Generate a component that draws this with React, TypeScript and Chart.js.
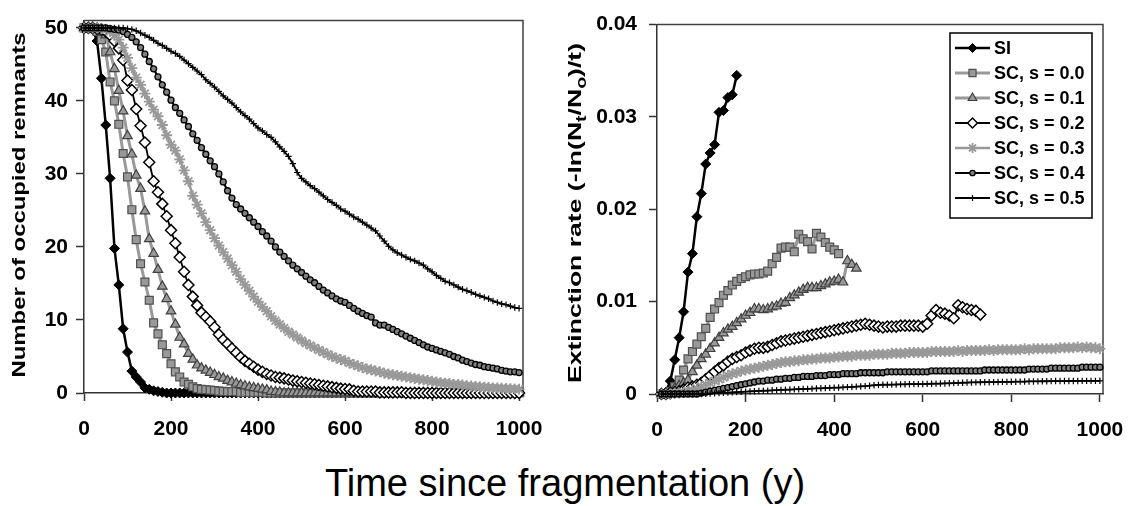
import React, { useEffect, useRef } from "react";
import { Chart, registerables } from "chart.js";
import { drawPoint } from "chart.js/helpers";

Chart.register(...registerables);

const FONT = '"Liberation Sans", Arial, Helvetica, sans-serif';

// ---------------- data ----------------
// time since fragmentation (years), shared by every series
const YEARS = [
  0, 10, 20, 30, 40, 50, 60, 70, 80, 90,
  100, 110, 120, 130, 140, 150, 160, 170, 180, 190,
  200, 210, 220, 230, 240, 250, 260, 270, 280, 290,
  300, 310, 320, 330, 340, 350, 360, 370, 380, 390,
  400, 410, 420, 430, 440, 450, 460, 470, 480, 490,
  500, 510, 520, 530, 540, 550, 560, 570, 580, 590,
  600, 610, 620, 630, 640, 650, 660, 670, 680, 690,
  700, 710, 720, 730, 740, 750, 760, 770, 780, 790,
  800, 810, 820, 830, 840, 850, 860, 870, 880, 890,
  900, 910, 920, 930, 940, 950, 960, 970, 980, 990,
  1000,
];

const SERIES_LABELS = ["SI", "SC, s = 0.0", "SC, s = 0.1", "SC, s = 0.2", "SC, s = 0.3", "SC, s = 0.4", "SC, s = 0.5"];

const X_TICKS = [0, 200, 400, 600, 800, 1000];
const LEFT_Y_TICKS = [0, 10, 20, 30, 40, 50];
const RIGHT_Y_TICKS = [0, 0.01, 0.02, 0.03, 0.04];

// Left panel: number of occupied remnants (one value per YEARS entry)
const OCC_SI = [
  50, 50, 49.8, 48.2, 43.1, 36.7, 29.4, 19.8, 14.8, 8.8,
  5.6, 3.0, 2.2, 1.5, 0.7, 0.5, 0.3, 0.2, 0.1, 0,
  0, 0, 0, 0, 0, 0, 0, 0, 0, 0,
  0, 0, 0, 0, 0, 0, 0, 0, 0, 0,
  0, 0, 0, 0, 0, 0, 0, 0, 0, 0,
  0, 0, 0, 0, 0, 0, 0, 0, 0, 0,
  0, 0, 0, 0, 0, 0, 0, 0, 0, 0,
  0, 0, 0, 0, 0, 0, 0, 0, 0, 0,
  0, 0, 0, 0, 0, 0, 0, 0, 0, 0,
  0, 0, 0, 0, 0, 0, 0, 0, 0, 0,
  0,
];
const OCC_S00 = [
  50, 50, 49.9, 49.5, 48.4, 46.7, 42.6, 40.0, 36.8, 32.8,
  29.6, 25.1, 21.0, 17.7, 15.2, 12.7, 9.6, 8.1, 6.6, 5.4,
  4.0, 2.9, 2.2, 1.5, 1.2, 0.85, 0.6, 0.5, 0.45, 0.4,
  0.35, 0.25, 0.22, 0.2, 0.2, 0.18, 0.1, 0.1, 0.1, 0.1,
  0.1, 0.1, 0, 0, 0, 0, 0, 0, 0, 0,
  0, 0, 0, 0, 0, 0, 0, 0, 0, 0,
  0, 0, 0, 0, 0, 0, 0, 0, 0, 0,
  0, 0, 0, 0, 0, 0, 0, 0, 0, 0,
  0, 0, 0, 0, 0, 0, 0, 0, 0, 0,
  0, 0, 0, 0, 0, 0, 0, 0, 0, 0,
  0,
];
const OCC_S01 = [
  50, 50, 50, 49.8, 49.5, 49.0, 46.7, 44.4, 41.4, 38.6,
  35.2, 32.7, 29.8, 28.0, 24.9, 21.1, 19.1, 16.9, 14.6, 12.9,
  11.2, 9.4, 7.6, 6.7, 5.4, 4.6, 3.8, 3.4, 3.1, 2.8,
  2.5, 2.2, 2.0, 1.7, 1.5, 1.3, 1.1, 0.95, 0.8, 0.7,
  0.6, 0.5, 0.4, 0.2, 0.15, 0.1, 0, 0, 0, 0,
  0, 0, 0, 0, 0, 0, 0, 0, 0, 0,
  0, 0, 0, 0, 0, 0, 0, 0, 0, 0,
  0, 0, 0, 0, 0, 0, 0, 0, 0, 0,
  0, 0, 0, 0, 0, 0, 0, 0, 0, 0,
  0, 0, 0, 0, 0, 0, 0, 0, 0, 0,
  0,
];
const OCC_S02 = [
  50, 50, 50, 49.9, 49.8, 49.5, 49.0, 48.2, 47.2, 45.6,
  42.8, 41.5, 38.9, 36.6, 34.3, 31.6, 29.0, 27.5, 25.9, 24.2,
  22.3, 20.5, 18.6, 16.6, 14.8, 13.2, 12.0, 11.0, 10.4, 9.8,
  9.0, 8.0, 7.3, 6.7, 6.1, 5.5, 4.9, 4.4, 4.0, 3.6,
  3.2, 2.9, 2.6, 2.4, 2.2, 2.1, 2.0, 1.85, 1.7, 1.6,
  1.5, 1.4, 1.3, 1.2, 1.1, 1.0, 0.9, 0.8, 0.7, 0.6,
  0.55, 0.5, 0.3, 0.2, 0.2, 0.2, 0.2, 0.2, 0.08, 0.08,
  0.08, 0.08, 0.08, 0.1, 0, 0, 0, 0, 0, 0,
  0, 0, 0, 0, 0, 0, 0, 0, 0, 0,
  0, 0, 0, 0, 0, 0, 0, 0, 0, 0,
  0,
];
const OCC_S03 = [
  50, 50, 50, 50, 49.9, 49.8, 49.5, 49.0, 48.4, 47.3,
  45.9, 44.5, 43.2, 42.2, 41.0, 39.9, 38.8, 37.9, 36.7, 35.3,
  34.0, 33.2, 32.0, 30.5, 29.0, 27.0, 25.8, 24.6, 23.4, 22.3,
  21.2, 20.2, 19.3, 18.4, 17.5, 16.6, 15.6, 14.8, 14.0, 13.2,
  12.5, 11.8, 11.2, 10.5, 9.9, 9.4, 8.9, 8.4, 8.0, 7.6,
  7.2, 6.8, 6.5, 6.2, 5.9, 5.6, 5.3, 5.0, 4.8, 4.6,
  4.4, 4.1, 3.9, 3.7, 3.5, 3.3, 3.2, 3.0, 2.9, 2.7,
  2.6, 2.5, 2.4, 2.3, 2.2, 2.1, 2.0, 1.9, 1.8, 1.7,
  1.6, 1.5, 1.4, 1.35, 1.3, 1.2, 1.15, 1.1, 1.0, 0.95,
  0.9, 0.85, 0.8, 0.75, 0.7, 0.68, 0.65, 0.6, 0.58, 0.55,
  0.5,
];
const OCC_S04 = [
  50, 50, 50, 50, 50, 50, 49.9, 49.8, 49.7, 49.5,
  49.1, 48.7, 48.1, 47.3, 46.4, 45.4, 44.4, 43.3, 42.2, 41.2,
  40.1, 39.1, 38.3, 37.4, 36.5, 35.5, 34.6, 33.6, 32.7, 31.8,
  31.0, 30.0, 28.9, 27.7, 26.7, 25.8, 25.2, 24.6, 24.0, 23.4,
  22.8, 22.1, 21.5, 20.8, 20.0, 19.3, 18.7, 18.1, 17.5, 17.0,
  16.5, 16.0, 15.5, 15.1, 14.6, 14.1, 13.7, 13.3, 12.9, 12.6,
  12.4, 12.0, 11.6, 11.2, 10.9, 10.6, 10.4, 9.6, 9.3, 9.3,
  9.0, 8.7, 8.4, 8.1, 7.8, 7.5, 7.2, 6.9, 6.6, 6.3,
  6.1, 5.9, 5.7, 5.5, 5.3, 5.0, 4.8, 4.5, 4.3, 4.1,
  3.9, 3.8, 3.6, 3.5, 3.4, 3.3, 3.1, 3.0, 2.9, 2.9,
  2.8,
];
const OCC_S05 = [
  50, 50, 50, 50, 50, 50, 50, 50, 50, 50,
  49.9, 49.8, 49.6, 49.3, 49.0, 48.7, 48.3, 47.9, 47.6, 47.2,
  46.8, 46.5, 46.1, 45.6, 45.1, 44.6, 44.1, 43.6, 42.9, 42.4,
  41.9, 41.3, 40.7, 40.2, 39.7, 39.1, 38.5, 38.0, 37.5, 36.9,
  36.3, 35.9, 35.4, 35.0, 34.4, 33.7, 33.1, 32.4, 31.4, 30.2,
  29.4, 28.9, 28.4, 28.0, 27.5, 27.0, 26.5, 26.1, 25.7, 25.2,
  24.9, 24.5, 24.1, 23.8, 23.4, 23.0, 22.6, 22.2, 21.5, 20.8,
  20.1, 19.6, 19.2, 18.9, 18.6, 18.3, 18.1, 17.8, 17.5, 17.0,
  16.6, 16.1, 15.7, 15.3, 15.1, 14.8, 14.5, 14.2, 14.0, 13.8,
  13.5, 13.3, 13.1, 12.9, 12.6, 12.4, 12.2, 12.1, 11.9, 11.7,
  11.6,
];

// Right panel: extinction rate, values start at YEARS[1] (t = 10)
const RATE_SI = [
  0, 0.0002, 0.0014, 0.0037, 0.0061, 0.0089, 0.0132, 0.0152, 0.0192, 0.0217,
  0.0249, 0.0261, 0.027, 0.0305, 0.0307, 0.0321, 0.0324, 0.0345,
];
const RATE_S00 = [
  0, 0, 0.0003, 0.0008, 0.0015, 0.0026, 0.0038, 0.0046, 0.0054, 0.0062,
  0.0071, 0.0083, 0.0092, 0.0099, 0.0107, 0.0112, 0.0118, 0.0122, 0.0125, 0.0127,
  0.0129, 0.013, 0.013, 0.0131, 0.0133, 0.0141, 0.0148, 0.0158, 0.0159, 0.0159,
  0.0154, 0.0173, 0.0168, 0.0165, 0.0157, 0.0174, 0.017, 0.0164, 0.0159, 0.0156,
  0.0152,
];
const RATE_S01 = [
  0, 0.0001, 0.0003, 0.0006, 0.0009, 0.0012, 0.0015, 0.0024, 0.0031, 0.0038,
  0.0043, 0.0049, 0.0055, 0.0061, 0.0066, 0.007, 0.0073, 0.0077, 0.0081, 0.0085,
  0.0088, 0.0092, 0.0092, 0.0091, 0.0092, 0.0094, 0.0095, 0.0098, 0.0099, 0.0104,
  0.0107, 0.011, 0.0113, 0.0115, 0.0115, 0.0115, 0.0117, 0.0119, 0.0121, 0.0122,
  0.0124, 0.0121, 0.0144, 0.014, 0.0136,
];
const RATE_S02 = [
  0, 0, 0.0001, 0.0002, 0.0003, 0.0005, 0.0007, 0.0008, 0.001, 0.0012,
  0.0016, 0.002, 0.0024, 0.0028, 0.0031, 0.0035, 0.0038, 0.004, 0.0042, 0.0045,
  0.0047, 0.0049, 0.005, 0.005, 0.0051, 0.0053, 0.0055, 0.0057, 0.0058, 0.0059,
  0.006, 0.0061, 0.0062, 0.0063, 0.0064, 0.0065, 0.0066, 0.0067, 0.0068, 0.0069,
  0.007, 0.0071, 0.0072, 0.0073, 0.0074, 0.0075, 0.0076, 0.0075, 0.0074, 0.0073,
  0.0072, 0.0073, 0.0073, 0.0073, 0.0074, 0.0074, 0.0074, 0.0074, 0.0074, 0.0073,
  0.0076, 0.0085, 0.0091, 0.0088, 0.0087, 0.0085, 0.0082, 0.0096, 0.0094, 0.0092,
  0.0091, 0.009, 0.0086,
];
const RATE_S03 = [
  0, 0, 0, 0.0001, 0.0001, 0.0002, 0.0003, 0.0004, 0.0006, 0.0008,
  0.001, 0.0012, 0.0014, 0.0016, 0.0018, 0.002, 0.0022, 0.0023, 0.0025, 0.0026,
  0.0027, 0.0028, 0.0029, 0.003, 0.0031, 0.0032, 0.0033, 0.0034, 0.0035, 0.0035,
  0.0036, 0.0036, 0.0037, 0.0037, 0.0038, 0.0038, 0.0039, 0.0039, 0.0039, 0.004,
  0.004, 0.0041, 0.0041, 0.0041, 0.0042, 0.0042, 0.0042, 0.0042, 0.0043, 0.0043,
  0.0043, 0.0043, 0.0044, 0.0044, 0.0044, 0.0044, 0.0045, 0.0045, 0.0045, 0.0045,
  0.0045, 0.0046, 0.0046, 0.0046, 0.0046, 0.0046, 0.0046, 0.0047, 0.0046, 0.0047,
  0.0047, 0.0047, 0.0047, 0.0047, 0.0048, 0.0047, 0.0048, 0.0048, 0.0048, 0.0048,
  0.0048, 0.0048, 0.0049, 0.0048, 0.0049, 0.0049, 0.0049, 0.0049, 0.0049, 0.0049,
  0.005, 0.005, 0.005, 0.005, 0.0051, 0.005, 0.0051, 0.005, 0.005, 0.0049,
];
const RATE_S04 = [
  0, 0, 0, 0, 0, 0, 0, 0, 0, 0.0001,
  0.0002, 0.0003, 0.0004, 0.0005, 0.0006, 0.0007, 0.0008, 0.0009, 0.001, 0.0011,
  0.0012, 0.0013, 0.0014, 0.0014, 0.0015, 0.0015, 0.0016, 0.0016, 0.0017, 0.0017,
  0.0018, 0.0018, 0.0019, 0.0019, 0.0019, 0.002, 0.002, 0.002, 0.0021, 0.0021,
  0.0021, 0.0022, 0.0022, 0.0022, 0.0022, 0.0023, 0.0023, 0.0023, 0.0023, 0.0023,
  0.0023, 0.0024, 0.0024, 0.0024, 0.0024, 0.0024, 0.0024, 0.0024, 0.0024, 0.0024,
  0.0024, 0.0025, 0.0025, 0.0025, 0.0025, 0.0025, 0.0025, 0.0025, 0.0025, 0.0025,
  0.0025, 0.0025, 0.0025, 0.0026, 0.0026, 0.0026, 0.0026, 0.0026, 0.0026, 0.0026,
  0.0026, 0.0026, 0.0026, 0.0027, 0.0027, 0.0027, 0.0027, 0.0027, 0.0028, 0.0028,
  0.0028, 0.0028, 0.0028, 0.0028, 0.0028, 0.0029, 0.0029, 0.0029, 0.0029, 0.0029,
];
const RATE_S05 = [
  0, 0, 0, 0, 0, 0, 0, 0, 0, 0,
  0.00003, 0.00005, 0.00007, 0.0001, 0.00012, 0.00015, 0.00018, 0.0002, 0.00023, 0.00026,
  0.00028, 0.0003, 0.00033, 0.00035, 0.00037, 0.0004, 0.00042, 0.00044, 0.00046, 0.00048,
  0.0005, 0.00052, 0.00054, 0.00056, 0.00058, 0.0006, 0.00062, 0.00064, 0.00066, 0.00068,
  0.0007, 0.00072, 0.00074, 0.00076, 0.0008, 0.00082, 0.00085, 0.0009, 0.00095, 0.00098,
  0.001, 0.001, 0.00102, 0.00103, 0.00104, 0.00105, 0.00106, 0.00107, 0.00107, 0.00108,
  0.0011, 0.00111, 0.00112, 0.00113, 0.00114, 0.00116, 0.00118, 0.0012, 0.00122, 0.00124,
  0.00125, 0.00126, 0.00127, 0.00128, 0.00128, 0.00129, 0.0013, 0.00131, 0.00131, 0.00132,
  0.00133, 0.00134, 0.00135, 0.00136, 0.00136, 0.00137, 0.00138, 0.00138, 0.00139, 0.0014,
  0.0014, 0.0014, 0.00141, 0.00141, 0.00141, 0.00142, 0.00142, 0.00142, 0.00142, 0.00143,
];

const OCC_SERIES = [OCC_SI, OCC_S00, OCC_S01, OCC_S02, OCC_S03, OCC_S04, OCC_S05];
const RATE_SERIES = [RATE_SI, RATE_S00, RATE_S01, RATE_S02, RATE_S03, RATE_S04, RATE_S05];

// ---------------- styles ----------------
const STYLES = [
  { line: "#000000", lw: 2.5, ps: "rectRot", r: 5, fill: "#000000", stroke: "#000000", pbw: 1 },
  { line: "#999999", lw: 3, ps: "rect", r: 5.6, fill: "#999999", stroke: "#505050", pbw: 1.2 },
  { line: "#999999", lw: 3, ps: "triangle", r: 5.5, fill: "#999999", stroke: "#404040", pbw: 1.2 },
  { line: "#000000", lw: 1.8, ps: "rectRot", r: 5.5, fill: "#ffffff", stroke: "#000000", pbw: 1.5 },
  { line: "#999999", lw: 2.5, ps: "star", r: 5.5, fill: "#999999", stroke: "#999999", pbw: 1.8 },
  { line: "#000000", lw: 2.2, ps: "circle", r: 3, fill: "#808080", stroke: "#000000", pbw: 1.3 },
  { line: "#000000", lw: 1.8, ps: "cross", r: 3.2, fill: "#000000", stroke: "#000000", pbw: 1.2 },
];

function buildDatasets(series: number[][], offset: number) {
  return series.map((vals, k) => {
    const s = STYLES[k];
    return {
      label: SERIES_LABELS[k],
      data: vals.map((v, i) => ({ x: YEARS[i + offset], y: v })),
      borderColor: s.line,
      borderWidth: s.lw,
      pointStyle: s.ps,
      pointRadius: s.r,
      pointBackgroundColor: s.fill,
      pointBorderColor: s.stroke,
      pointBorderWidth: s.pbw,
      tension: 0,
      fill: false,
      order: series.length - k,
      clip: 10,
    };
  });
}

const framePlugin = {
  id: "frame",
  beforeDatasetsDraw(chart: any) {
    const { ctx, chartArea: a } = chart;
    ctx.save();
    ctx.strokeStyle = "#404040";
    ctx.lineWidth = 1.5;
    ctx.beginPath();
    ctx.moveTo(a.left, a.top);
    ctx.lineTo(a.right, a.top);
    ctx.lineTo(a.right, a.bottom);
    ctx.stroke();
    ctx.restore();
  },
};

type Seg = { text: string; sub?: boolean };

function titlePlugin(id: string, segs: Seg[], cx: number, cy: number, length: number, size: number) {
  return {
    id,
    afterDraw(chart: any) {
      const ctx = chart.ctx;
      const main = `bold ${size}px ${FONT}`;
      const sub = `bold ${Math.round(size * 0.72)}px ${FONT}`;
      ctx.save();
      let w = 0;
      const widths: number[] = [];
      segs.forEach((s) => {
        ctx.font = s.sub ? sub : main;
        const m = ctx.measureText(s.text).width;
        widths.push(m);
        w += m;
      });
      ctx.translate(cx, cy);
      ctx.rotate(-Math.PI / 2);
      ctx.scale(length / w, 1);
      ctx.fillStyle = "#000";
      ctx.textAlign = "left";
      ctx.textBaseline = "middle";
      let x = -w / 2;
      segs.forEach((s, i) => {
        ctx.font = s.sub ? sub : main;
        ctx.fillText(s.text, x, s.sub ? size * 0.32 : 0);
        x += widths[i];
      });
      ctx.restore();
    },
  };
}

const legendPlugin = {
  id: "boxLegend",
  afterDraw(chart: any) {
    const ctx = chart.ctx;
    const bx = 385, by = 33, bw = 142, bh = 185;
    ctx.save();
    ctx.fillStyle = "#ffffff";
    ctx.fillRect(bx, by, bw, bh);
    ctx.strokeStyle = "#000";
    ctx.lineWidth = 1.5;
    ctx.strokeRect(bx, by, bw, bh);
    chart.data.datasets.forEach((ds: any, i: number) => {
      const y = 48 + i * 25;
      ctx.strokeStyle = ds.borderColor;
      ctx.lineWidth = ds.borderWidth;
      ctx.beginPath();
      ctx.moveTo(390, y);
      ctx.lineTo(425, y);
      ctx.stroke();
      ctx.fillStyle = ds.pointBackgroundColor;
      ctx.strokeStyle = ds.pointBorderColor;
      ctx.lineWidth = ds.pointBorderWidth;
      drawPoint(ctx, { pointStyle: ds.pointStyle, radius: ds.pointRadius * 0.9, rotation: 0, borderWidth: ds.pointBorderWidth }, 407.5, y);
      ctx.fillStyle = "#000";
      ctx.font = `bold 18px ${FONT}`;
      ctx.textAlign = "left";
      ctx.textBaseline = "middle";
      ctx.fillText(ds.label, 429, y + 1);
    });
    ctx.restore();
  },
};

function makeOptions(opts: {
  xmax: number; ymin: number; ymax: number; yticks: number[]; ywidth: number; xheight: number;
  ypad: number; padRight: number; fmt: (v: number) => string;
}) {
  const tickFont = { family: FONT, size: 21, weight: "bold" as const };
  return {
    responsive: false,
    animation: false as const,
    layout: { padding: { top: 16, right: opts.padRight, left: 0, bottom: 0 } },
    plugins: { legend: { display: false }, tooltip: { enabled: false } },
    scales: {
      x: {
        type: "linear" as const,
        min: 0,
        max: opts.xmax,
        afterBuildTicks: (s: any) => { s.ticks = X_TICKS.map((v) => ({ value: v })); },
        afterFit: (s: any) => { s.height = opts.xheight; },
        grid: { display: true, drawOnChartArea: false, drawTicks: true, tickLength: 8, tickColor: "#333", tickWidth: 1.5 },
        border: { display: true, color: "#333", width: 1.5 },
        ticks: { color: "#000", font: tickFont, padding: 16, maxRotation: 0, autoSkip: false, callback: (v: any) => String(v) },
      },
      y: {
        type: "linear" as const,
        min: opts.ymin,
        max: opts.ymax,
        afterBuildTicks: (s: any) => { s.ticks = opts.yticks.map((v) => ({ value: v })); },
        afterFit: (s: any) => { s.width = opts.ywidth; },
        grid: { display: true, drawOnChartArea: false, drawTicks: true, tickLength: 8, tickColor: "#333", tickWidth: 1.5 },
        border: { display: true, color: "#333", width: 1.5 },
        ticks: { color: "#000", font: tickFont, padding: opts.ypad, autoSkip: false, callback: (v: any) => opts.fmt(v) },
      },
    },
  };
}

function ChartCanvas({ config, left, width }: { config: any; left: number; width: number }) {
  const ref = useRef<HTMLCanvasElement | null>(null);
  useEffect(() => {
    if (!ref.current) return;
    const chart = new Chart(ref.current, config);
    return () => chart.destroy();
  }, [config]);
  return (
    <canvas
      ref={ref}
      width={width}
      height={460}
      style={{ position: "absolute", left, top: 0, width, height: 460 }}
    />
  );
}

const leftConfig = {
  type: "line",
  data: { datasets: buildDatasets(OCC_SERIES, 0) },
  options: makeOptions({
    xmax: 1009, ymin: 0, ymax: 51, yticks: LEFT_Y_TICKS, ywidth: 84, xheight: 460 - 393,
    ypad: 8, padRight: 42, fmt: (v) => String(v),
  }),
  plugins: [
    framePlugin,
    titlePlugin("ytitleL", [{ text: "Number of occupied remnants" }], 20, 205, 345, 19),
  ],
};

const rightConfig = {
  type: "line",
  data: { datasets: buildDatasets(RATE_SERIES, 1) },
  options: makeOptions({
    xmax: 1007, ymin: 0, ymax: 0.04, yticks: RIGHT_Y_TICKS, ywidth: 92, xheight: 460 - 394,
    ypad: 12, padRight: 62, fmt: (v) => (v === 0 ? "0" : v.toFixed(2)),
  }),
  plugins: [
    framePlugin,
    titlePlugin(
      "ytitleR",
      [
        { text: "Extinction rate (-ln(N" },
        { text: "t", sub: true },
        { text: "/N" },
        { text: "o", sub: true },
        { text: ")/t)" },
      ],
      11, 213, 340, 19
    ),
    legendPlugin,
  ],
};

export default function App() {
  return (
    <div style={{ position: "absolute", left: 0, top: 0, width: 1130, height: 506, background: "#fff", overflow: "hidden" }}>
      <ChartCanvas config={leftConfig} left={0} width={565} />
      <ChartCanvas config={rightConfig} left={565} width={600} />
      <div
        style={{
          position: "absolute", left: 0, top: 464, width: 1130, textAlign: "center",
          fontFamily: FONT, fontSize: 38, lineHeight: "38px", color: "#000", whiteSpace: "nowrap",
        }}
      >
        Time since fragmentation (y)
      </div>
    </div>
  );
}
